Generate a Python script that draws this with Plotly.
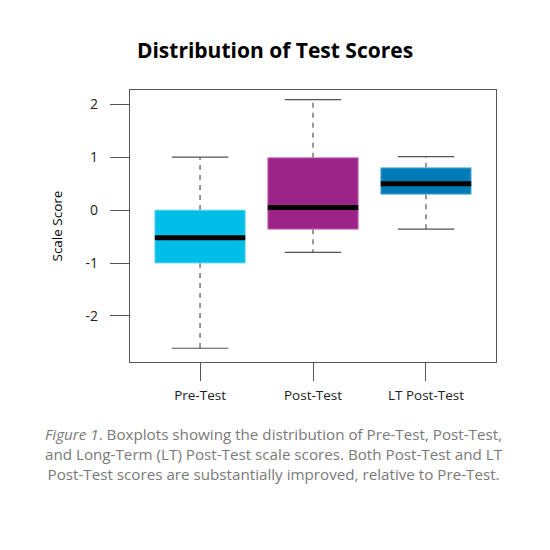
import plotly.graph_objects as go

categories = ["Pre-Test", "Post-Test", "LT Post-Test"]
lower_whisker = [-2.61, -0.80, -0.36]
q1_values = [-1.00, -0.36, 0.30]
median_values = [-0.52, 0.05, 0.50]
q3_values = [0.00, 0.99, 0.80]
upper_whisker = [1.00, 2.09, 1.01]
box_colors = ["#00BEE8", "#9C2387", "#007BB7"]
box_edge_colors = ["#7fdcf3", "#d07fc3", "#7fbde0"]
y_tick_vals = [-2, -1, 0, 1, 2]
y_tick_text = ["-2", "-1", "0", "1", "2"]

FONT = "Open Sans"
half_box = 0.4
half_cap = 0.25

fig = go.Figure()
positions = list(range(1, len(categories) + 1))

for i, c in enumerate(positions):
    # whiskers (dashed)
    fig.add_trace(go.Scatter(
        x=[c, c, None, c, c],
        y=[q3_values[i], upper_whisker[i], None, q1_values[i], lower_whisker[i]],
        mode="lines", line=dict(color="#555555", width=1.2, dash="5px,5px"),
        hoverinfo="skip", showlegend=False))
    # caps
    fig.add_trace(go.Scatter(
        x=[c - half_cap, c + half_cap, None, c - half_cap, c + half_cap],
        y=[upper_whisker[i], upper_whisker[i], None, lower_whisker[i], lower_whisker[i]],
        mode="lines", line=dict(color="#555555", width=1.2),
        hoverinfo="skip", showlegend=False))
    # box
    fig.add_trace(go.Scatter(
        x=[c - half_box, c + half_box, c + half_box, c - half_box, c - half_box],
        y=[q1_values[i], q1_values[i], q3_values[i], q3_values[i], q1_values[i]],
        mode="lines", fill="toself", fillcolor=box_colors[i],
        line=dict(color=box_edge_colors[i], width=1),
        hoverinfo="skip", showlegend=False))
    # median
    fig.add_trace(go.Scatter(
        x=[c - half_box, c + half_box],
        y=[median_values[i], median_values[i]],
        mode="lines", line=dict(color="#000000", width=5),
        hoverinfo="skip", showlegend=False))

fig.update_layout(
    width=550, height=550,
    margin=dict(l=122, r=62, t=82, b=196),
    plot_bgcolor="white", paper_bgcolor="white",
    font=dict(family=FONT, color="#222222"),
    title=dict(text="<b>Distribution of Test Scores</b>", x=(275 - 8) / 550, xanchor="center",
               y=1 - 43 / 550, yanchor="middle",
               font=dict(family=FONT, size=21, color="#000000")),
    xaxis=dict(range=[0.38, 3.62], tickmode="array", tickvals=positions,
               ticktext=categories, ticks="outside", ticklen=18, tickcolor="#555555",
               showline=True, linecolor="#555555", linewidth=1.2, mirror=True,
               showgrid=False, zeroline=False, ticklabelstandoff=3,
               tickfont=dict(family=FONT, size=13.5, color="#222222")),
    yaxis=dict(range=[-2.87, 2.27], tickmode="array", tickvals=y_tick_vals,
               ticktext=y_tick_text, ticks="outside", ticklen=19, tickcolor="#555555",
               showline=True, linecolor="#555555", linewidth=1.2, mirror=True,
               showgrid=False, zeroline=False, ticklabelstandoff=9,
               tickfont=dict(family=FONT, size=14, color="#222222"),
               title=dict(text="Scale Score", standoff=19,
                          font=dict(family=FONT, size=13.5, color="#000000"))),
)

fig.add_annotation(
    text=("<i>Figure 1</i>. Boxplots showing the distribution of Pre-Test, Post-Test,<br>"
          "and Long-Term (LT) Post-Test scale scores. Both Post-Test and LT<br>"
          "Post-Test scores are substantially improved, relative to Pre-Test."),
    xref="paper", yref="paper", x=(274 - 130) / 366, y=-(454 - 362) / 272,
    xanchor="center", yanchor="middle", showarrow=False, align="center",
    font=dict(family=FONT, size=15.2, color="#7a7a7a"))

fig.write_html("out.html")
